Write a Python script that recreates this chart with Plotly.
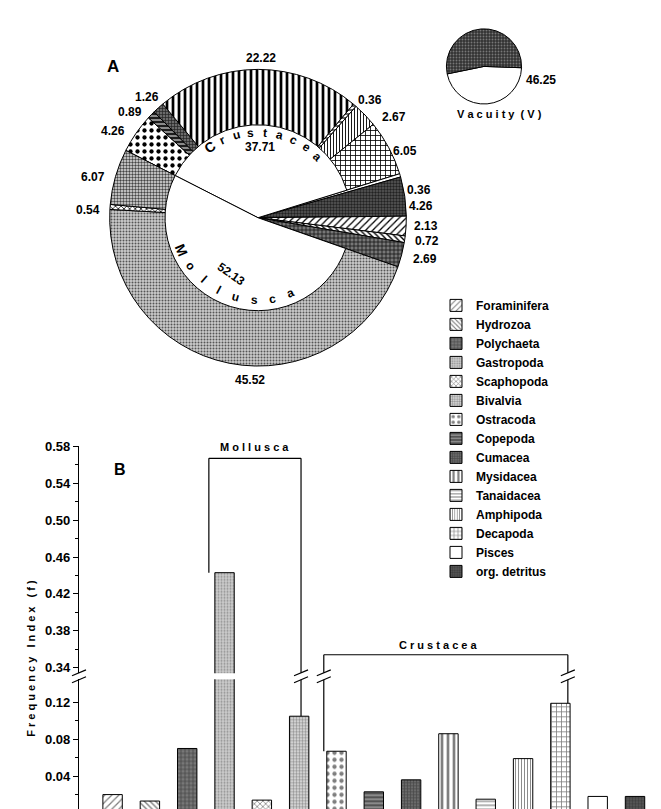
import math
import plotly.graph_objects as go

W, H = 661, 809

# ---------------- data ----------------
taxa = ["Foraminifera", "Hydrozoa", "Polychaeta", "Gastropoda", "Scaphopoda",
        "Bivalvia", "Ostracoda", "Copepoda", "Cumacea", "Mysidacea",
        "Tanaidacea", "Amphipoda", "Decapoda", "Pisces", "org. detritus"]
freq_index = [0.020, 0.013, 0.070, 0.443, 0.014, 0.105, 0.067, 0.023, 0.036,
              0.086, 0.015, 0.059, 0.119, 0.018, 0.018]

# Panel A: percentages, clockwise from the Crustacea / Mollusca boundary
pie_order = ["Ostracoda", "Copepoda", "Cumacea", "Mysidacea", "Tanaidacea",
             "Amphipoda", "Decapoda", "Pisces", "org. detritus", "Foraminifera",
             "Hydrozoa", "Polychaeta", "Gastropoda", "Scaphopoda", "Bivalvia"]
pie_pct = [4.26, 0.89, 1.26, 22.22, 0.36, 2.67, 6.05, 0.36, 4.26, 2.13,
           0.72, 2.69, 45.52, 0.54, 6.07]
group_names = ["Crustacea", "Mollusca"]
group_pct = [37.71, 52.13]
vacuity_pct = 46.25

# ---------------- styles ----------------
style = {
    "Foraminifera": dict(shape="/", fg="black", bg="white", size=5, sol=0.25),
    "Hydrozoa": dict(shape="\\", fg="black", bg="white", size=4, sol=0.35),
    "Polychaeta": dict(shape="+", fg="#111111", bg="#777777", size=4, sol=0.35),
    "Gastropoda": dict(shape=".", fg="#555555", bg="#cccccc", size=3, sol=0.35),
    "Scaphopoda": dict(shape="x", fg="black", bg="white", size=4, sol=0.35),
    "Bivalvia": dict(shape=".", fg="#444444", bg="#e4e4e4", size=3, sol=0.5),
    "Ostracoda": dict(shape=".", fg="black", bg="white", size=7, sol=0.3),
    "Copepoda": dict(shape="-", fg="black", bg="#8a8a8a", size=4, sol=0.4),
    "Cumacea": dict(shape="+", fg="#222222", bg="#6a6a6a", size=3, sol=0.4),
    "Mysidacea": dict(shape="|", fg="black", bg="white", size=6, sol=0.45),
    "Tanaidacea": dict(shape="-", fg="black", bg="white", size=4, sol=0.3),
    "Amphipoda": dict(shape="|", fg="black", bg="white", size=3, sol=0.3),
    "Decapoda": dict(shape="+", fg="black", bg="white", size=5, sol=0.3),
    "Pisces": dict(shape="", fg="black", bg="white", size=5, sol=0.3),
    "org. detritus": dict(shape=".", fg="#222222", bg="#5a5a5a", size=3, sol=0.5),
}

FONT = "Liberation Sans"


def px_x(px):
    return px / W


def px_y(py):
    return (H - py) / H


fig = go.Figure()

# ---------------- Panel A : pie ----------------
cx, cy, R, Rin = 250, 205, 150, 94
ROT = -63

fig.add_trace(go.Pie(
    values=pie_pct, labels=pie_order, sort=False, direction="clockwise",
    rotation=ROT, textinfo="none", showlegend=False, hoverinfo="label+value",
    domain=dict(x=[px_x(cx - R), px_x(cx + R)], y=[px_y(cy + R), px_y(cy - R)]),
    marker=dict(
        colors=[style[t]["bg"] for t in pie_order],
        line=dict(color="black", width=1),
        pattern=dict(shape=[style[t]["shape"] for t in pie_order],
                     fgcolor=[style[t]["fg"] for t in pie_order],
                     bgcolor=[style[t]["bg"] for t in pie_order],
                     size=[style[t]["size"] for t in pie_order],
                     solidity=[style[t]["sol"] for t in pie_order])),
))

other_pct = 100 - sum(group_pct)
fig.add_trace(go.Pie(
    values=[group_pct[0], other_pct, group_pct[1]],
    labels=[group_names[0], "other", group_names[1]],
    sort=False, direction="clockwise", rotation=ROT, textinfo="none",
    showlegend=False, hoverinfo="label+value",
    domain=dict(x=[px_x(cx - Rin), px_x(cx + Rin)], y=[px_y(cy + Rin), px_y(cy - Rin)]),
    marker=dict(colors=["white", "rgba(0,0,0,0)", "white"],
                line=dict(color="black", width=[1, 0, 1])),
))

# vacuity pie
vx, vy, vr = 476, 52, 38
fig.add_trace(go.Pie(
    values=[vacuity_pct, 100 - vacuity_pct], labels=["Vacuity", "Full"],
    sort=False, direction="clockwise", rotation=92, textinfo="none",
    showlegend=False, hoverinfo="label+value",
    domain=dict(x=[px_x(vx - vr), px_x(vx + vr)], y=[px_y(vy + vr), px_y(vy - vr)]),
    marker=dict(colors=["white", "#3a3a3a"], line=dict(color="black", width=1),
                pattern=dict(shape=["", "."], fgcolor=["black", "#777777"],
                             bgcolor=["white", "#333333"], size=[3, 3], solidity=[0.3, 0.3])),
))

# ---------------- Panel B : broken-axis bars ----------------
LO_RANGE = [0, 0.145]
UP_RANGE = [0.334, 0.58]
PXU = 932.5  # pixels per unit
base_px = 807
lo_dom = [px_y(base_px), px_y(base_px - LO_RANGE[1] * PXU)]
y034_px = 660
up_dom = [px_y(y034_px + (0.34 - UP_RANGE[0]) * PXU), px_y(y034_px - (UP_RANGE[1] - 0.34) * PXU)]
X_RANGE = [-0.9, 14.75]
xdom = [px_x(71), px_x(655)]

for i, (t, v) in enumerate(zip(taxa, freq_index)):
    s = style[t]
    fig.add_trace(go.Bar(
        x=[i], y=[v], width=[0.52], name=t, xaxis="x", yaxis="y", legendgroup=t,
        marker=dict(color=s["bg"], line=dict(color="black", width=1),
                    pattern=dict(shape=s["shape"], fgcolor=s["fg"], bgcolor=s["bg"],
                                 size=s["size"], solidity=s["sol"])),
    ))
for i, (t, v) in enumerate(zip(taxa, freq_index)):
    if v > LO_RANGE[1]:
        s = style[t]
        fig.add_trace(go.Bar(
            x=[i], y=[v], width=[0.52], name=t, xaxis="x", yaxis="y2", legendgroup=t,
            showlegend=False,
            marker=dict(color=s["bg"], line=dict(color="black", width=1),
                        pattern=dict(shape=s["shape"], fgcolor=s["fg"], bgcolor=s["bg"],
                                     size=s["size"], solidity=s["sol"])),
        ))


def y_paper(v):
    if v <= LO_RANGE[1]:
        r, d = LO_RANGE, lo_dom
    else:
        r, d = UP_RANGE, up_dom
    return d[0] + (v - r[0]) / (r[1] - r[0]) * (d[1] - d[0])


def x_paper(i):
    return xdom[0] + (i - X_RANGE[0]) / (X_RANGE[1] - X_RANGE[0]) * (xdom[1] - xdom[0])


gap_mid = (lo_dom[1] + up_dom[0]) / 2
gap_half = 3.5 / H

shapes = []
LINE = dict(color="black", width=1.2)


def brk(xp):
    for off in (-gap_half, gap_half):
        shapes.append(dict(type="line", xref="paper", yref="paper",
                           x0=xp - 7 / W, x1=xp + 7 / W,
                           y0=gap_mid + off - 3 / H, y1=gap_mid + off + 3 / H,
                           line=dict(color="black", width=1.2)))


def vline(xi, y_from, y_to):
    """vertical bracket line in data-x / paper-y, split at axis break"""
    lo, hi = min(y_from, y_to), max(y_from, y_to)
    if lo < gap_mid < hi:
        shapes.append(dict(type="line", xref="x", yref="paper", x0=xi, x1=xi,
                           y0=lo, y1=gap_mid - gap_half, line=LINE))
        shapes.append(dict(type="line", xref="x", yref="paper", x0=xi, x1=xi,
                           y0=gap_mid + gap_half, y1=hi, line=LINE))
        brk(x_paper(xi))
    else:
        shapes.append(dict(type="line", xref="x", yref="paper", x0=xi, x1=xi,
                           y0=lo, y1=hi, line=LINE))


# axis break marks
brk(xdom[0])

# Mollusca bracket
m_left, m_right, m_top = 2.58, 5.05, y_paper(0.567)
vline(m_left, y_paper(freq_index[3]), m_top)
vline(m_right, y_paper(freq_index[5]), m_top)
shapes.append(dict(type="line", xref="x", yref="paper", x0=m_left, x1=m_right,
                   y0=m_top, y1=m_top, line=LINE))
# Crustacea bracket
c_left, c_right, c_top = 5.66, 12.2, y_paper(0.354)
vline(c_left, y_paper(freq_index[6]), c_top)
vline(c_right, y_paper(freq_index[12]), c_top)
shapes.append(dict(type="line", xref="x", yref="paper", x0=c_left, x1=c_right,
                   y0=c_top, y1=c_top, line=LINE))

# ---------------- annotations ----------------
ann = []


def txt(x, y, s, size=11, angle=0, bold=True, xref="paper", anchor="center"):
    ann.append(dict(x=x, y=y, xref=xref, yref="paper", text=s, showarrow=False,
                    textangle=angle, xanchor=anchor, yanchor="middle",
                    font=dict(family=FONT, size=size, color="black",
                              weight="bold" if bold else "normal")))


# pie value labels (pixel positions)
label_pos = [(105, 117), (122, 98), (139, 83), (253, 43), (362, 86), (386, 103),
             (397, 138), (411, 177), (413, 193), (418, 213), (419, 229), (417, 247),
             (242, 369), (80, 197), (85, 164)]
for v, (lx, ly) in zip(pie_pct, label_pos):
    txt(px_x(lx), px_y(ly), f"{v:.2f}", size=12)

# curved group names
for k, ch in enumerate("Crustacea"):
    th = -34 + k * 9.75
    x = cx + 86 * math.sin(math.radians(th))
    y = cy - 86 * math.cos(math.radians(th))
    txt(px_x(x), px_y(y), ch, size=14 if k == 0 else 12, angle=th)
txt(px_x(252), px_y(133), f"{group_pct[0]:.2f}", size=12)

for k, ch in enumerate("Mollusca"):
    th = 247 - k * 12.86
    x = cx + 83 * math.sin(math.radians(th))
    y = cy - 83 * math.cos(math.radians(th))
    txt(px_x(x), px_y(y), ch, size=14 if k == 0 else 12, angle=th - 180)
txt(px_x(223), px_y(262), f"{group_pct[1]:.2f}", size=12, angle=35)

txt(px_x(105), px_y(52), "A", size=17)
txt(px_x(533), px_y(66), f"{vacuity_pct:.2f}", size=12)
txt(px_x(492), px_y(100), "V a c u i t y  ( V )", size=11)

# panel B texts
txt(px_x(112), px_y(460), "B", size=16)
txt(px_x(23), px_y(651), "F r e q u e n c y   I n d e x   ( f )", size=11, angle=-90)
txt((m_left + m_right) / 2, px_y(437), "M o l l u s c a", size=11, xref="x")
txt((c_left + c_right) / 2 - 0.2, px_y(637), "C r u s t a c e a", size=11, xref="x")

tickfont = dict(family=FONT, size=13, color="black", weight="bold")
fig.update_layout(
    width=W, height=H, margin=dict(l=0, r=0, t=0, b=0),
    paper_bgcolor="white", plot_bgcolor="rgba(0,0,0,0)",
    barmode="overlay", showlegend=True,
    xaxis=dict(domain=xdom, range=X_RANGE, anchor="y", showline=True,
               linecolor="black", linewidth=1.2, showticklabels=False, ticks="",
               showgrid=False, zeroline=False, fixedrange=True),
    yaxis=dict(domain=lo_dom, range=LO_RANGE, anchor="x", showline=True,
               linecolor="black", linewidth=1.2, ticks="outside", ticklen=5,
               tickcolor="black", tickvals=[0, 0.04, 0.08, 0.12],
               ticktext=["0", "0.04", "0.08", "0.12"], tickfont=tickfont,
               minor=dict(tickvals=[0.02, 0.06, 0.10], ticks="outside", ticklen=3,
                          tickcolor="black", showgrid=False),
               showgrid=False, zeroline=False),
    yaxis2=dict(domain=up_dom, range=UP_RANGE, anchor="x", showline=True,
                linecolor="black", linewidth=1.2, ticks="outside", ticklen=5,
                tickcolor="black",
                tickvals=[0.34, 0.38, 0.42, 0.46, 0.50, 0.54, 0.58],
                ticktext=["0.34", "0.38", "0.42", "0.46", "0.50", "0.54", "0.58"],
                tickfont=tickfont,
                minor=dict(tickvals=[0.36, 0.40, 0.44, 0.48, 0.52, 0.56],
                           ticks="outside", ticklen=3, tickcolor="black", showgrid=False),
                showgrid=False, zeroline=False),
    legend=dict(x=px_x(428), y=px_y(279), xanchor="left", yanchor="top",
                bgcolor="rgba(0,0,0,0)", tracegroupgap=0, itemwidth=30,
                font=dict(family=FONT, size=12, color="black", weight="bold")),
    shapes=shapes, annotations=ann,
)

fig.write_html("out.html")
